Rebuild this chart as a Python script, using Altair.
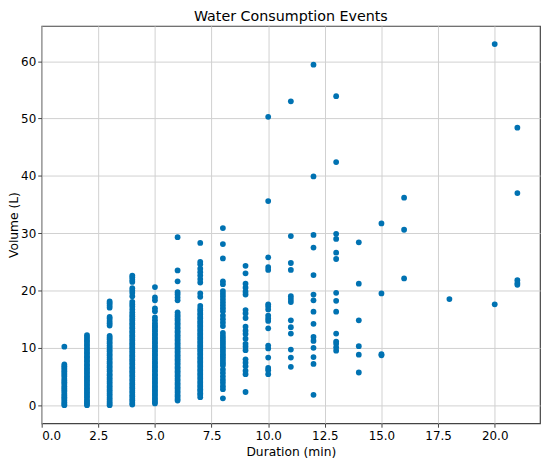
import altair as alt
import pandas as pd

# Volume readings (L) per event duration (min)
vol_1 = [0.0, 0.2, 0.5, 0.8, 1.1, 1.4, 1.7, 2.0, 2.4, 2.7, 3.0, 3.3, 3.7, 4.0, 4.3,
         4.6, 5.0, 5.3, 5.6, 5.9, 6.2, 6.5, 6.8, 7.1, 10.2]
vol_2 = [0.0, 0.3, 0.6, 0.9, 1.3, 1.6, 2.0, 2.3, 2.7, 3.0, 3.4, 3.7, 4.1, 4.4, 4.8,
         5.1, 5.5, 5.8, 6.2, 6.5, 6.9, 7.2, 7.6, 7.9, 8.3, 8.6, 9.0, 9.3, 9.7, 10.0,
         10.4, 10.7, 11.1, 11.4, 11.8, 12.2]
vol_3 = [0.0, 0.3, 0.6, 1.0, 1.3, 1.7, 2.0, 2.4, 2.7, 3.1, 3.4, 3.8, 4.1, 4.5, 4.8,
         5.2, 5.5, 5.9, 6.2, 6.6, 6.9, 7.3, 7.6, 8.0, 8.3, 8.7, 9.0, 9.4, 9.7, 10.1,
         10.4, 10.8, 11.1, 11.5, 11.8, 12.1, 13.9, 14.3, 14.7, 15.1, 15.4, 17.0,
         17.4, 17.8, 18.1]
vol_4 = [0.1, 0.4, 0.8, 1.1, 1.5, 1.8, 2.2, 2.5, 2.9, 3.2, 3.6, 3.9, 4.3, 4.6, 5.0,
         5.3, 5.7, 6.0, 6.4, 6.7, 7.1, 7.4, 7.8, 8.1, 8.5, 8.8, 9.2, 9.5, 9.9, 10.2,
         10.6, 10.9, 11.3, 11.6, 12.0, 12.3, 12.7, 13.0, 13.4, 13.7, 14.1, 14.4,
         14.8, 15.1, 15.5, 15.8, 16.2, 16.7, 17.2, 17.6, 18.0, 19.0, 19.6, 20.0,
         20.4, 21.5, 21.9, 22.3, 22.6]
vol_5 = [0.3, 0.6, 1.0, 1.3, 1.7, 2.0, 2.4, 2.7, 3.1, 3.4, 3.8, 4.1, 4.5, 4.8, 5.2,
         5.5, 5.9, 6.2, 6.6, 6.9, 7.3, 7.6, 8.0, 8.3, 8.7, 9.0, 9.4, 9.7, 10.1, 10.4,
         10.8, 11.1, 11.5, 11.8, 12.2, 12.5, 12.9, 13.2, 13.6, 13.9, 14.3, 14.8,
         15.3, 16.4, 16.9, 18.3, 18.8, 20.6]
vol_6 = [0.8, 1.1, 1.5, 1.8, 2.2, 2.5, 2.9, 3.2, 3.6, 3.9, 4.3, 4.6, 5.0, 5.3, 5.7,
         6.0, 6.4, 6.7, 7.1, 7.4, 7.8, 8.1, 8.5, 8.8, 9.2, 9.5, 9.9, 10.2, 10.6,
         10.9, 11.3, 11.6, 12.0, 12.3, 12.7, 13.0, 13.4, 13.7, 14.1, 14.4, 14.8,
         15.1, 15.5, 15.8, 16.2, 18.3, 18.8, 19.3, 19.7, 21.6, 23.5, 29.3]
vol_7 = [1.4, 1.8, 2.1, 2.5, 2.8, 3.2, 3.5, 3.9, 4.2, 4.6, 4.9, 5.3, 5.6, 6.0, 6.3,
         6.7, 7.0, 7.4, 7.7, 8.1, 8.4, 8.8, 9.1, 9.5, 9.8, 10.2, 10.5, 10.9, 11.2,
         11.6, 11.9, 12.3, 12.6, 13.0, 13.3, 13.7, 14.0, 14.4, 14.7, 15.1, 15.4,
         15.8, 16.1, 16.5, 16.8, 17.3, 18.9, 19.5, 21.4, 22.0, 22.6, 23.2, 23.8,
         24.6, 25.0, 28.3]
vol_8 = [1.2, 2.8, 3.3, 3.9, 4.4, 5.0, 5.6, 6.2, 6.9, 7.3, 7.7, 8.1, 8.5, 8.9, 9.3,
         9.7, 10.1, 10.5, 10.9, 11.3, 11.7, 12.1, 12.6, 13.8, 14.4, 15.0, 15.6,
         16.4, 16.9, 17.4, 17.9, 18.4, 18.9, 19.4, 19.9, 21.1, 21.6, 25.6, 28.1,
         30.9]
vol_9 = [2.3, 5.4, 6.0, 6.8, 7.4, 8.0, 9.6, 10.2, 10.7, 11.6, 12.4, 13.0, 13.7,
         15.2, 16.0, 16.6, 19.3, 19.8, 20.5, 21.2, 23.0, 24.3]
vol_10 = [50.3, 35.6, 25.8, 24.1, 23.6, 17.6, 17.2, 16.7, 15.6, 15.1, 14.7, 13.4,
          10.4, 9.9, 8.3, 6.5, 6.1, 5.4]
vol_11 = [53.0, 29.5, 24.8, 23.6, 19.0, 18.5, 18.0, 14.8, 13.6, 12.5, 9.7, 8.3, 6.7]
vol_12 = [59.4, 39.9, 29.7, 27.5, 22.7, 19.3, 18.3, 16.3, 14.2, 11.9, 11.2, 10.0,
          8.4, 7.2, 1.8]
vol_13 = [53.9, 42.4, 29.9, 29.0, 26.6, 25.5, 19.6, 18.2, 16.3, 12.5, 11.1, 10.7,
          10.1, 9.5]
vol_14 = [28.4, 21.2, 14.8, 10.3, 8.8, 5.7]
vol_15 = [31.7, 19.5, 8.9, 8.7]
vol_16 = [36.2, 30.6, 22.1]
vol_18 = [18.5]
vol_20 = [63.0, 17.6]
vol_21 = [48.4, 37.0, 21.8, 21.3, 21.0]

durations = [1, 2, 3, 4, 5, 6, 7, 8, 9, 10, 11, 12, 13, 14, 15, 16, 18, 20, 21]
volumes = [vol_1, vol_2, vol_3, vol_4, vol_5, vol_6, vol_7, vol_8, vol_9, vol_10,
           vol_11, vol_12, vol_13, vol_14, vol_15, vol_16, vol_18, vol_20, vol_21]

x_ticks = [0.0, 2.5, 5.0, 7.5, 10.0, 12.5, 15.0, 17.5, 20.0]
y_ticks = [0, 10, 20, 30, 40, 50, 60]

rows = []
for d, vs in zip(durations, volumes):
    for v in vs:
        rows.append({"duration": d, "volume": v})
df = pd.DataFrame(rows)

FONT = "DejaVu Sans"

chart = alt.Chart(df).mark_circle(
    size=34, opacity=1, color="#0072B2"
).encode(
    x=alt.X("duration:Q", title="Duration (min)",
            scale=alt.Scale(domain=[0, 22], nice=False, zero=False),
            axis=alt.Axis(values=x_ticks, format=".1f", labelPadding=3,
                          titlePadding=5)),
    y=alt.Y("volume:Q", title="Volume (L)",
            scale=alt.Scale(domain=[-3.15, 66.15], nice=False, zero=False),
            axis=alt.Axis(values=y_ticks, format="d", labelPadding=2,
                          titlePadding=0)),
).properties(
    width=503,
    height=401,
    title=alt.TitleParams("Water Consumption Events", font=FONT, fontSize=14.4,
                          fontWeight="normal", color="#000000", offset=2),
    autosize=alt.AutoSizeParams(type="none"),
    padding={"left": 34, "top": 16, "right": 2, "bottom": 37},
).configure_view(
    stroke="#444444", strokeWidth=1.2
).configure_axis(
    labelFont=FONT, labelFontSize=12, labelColor="#000000",
    titleFont=FONT, titleFontSize=12.4, titleFontWeight="normal", titleColor="#000000",
    domain=False, grid=True, gridColor="#d0d0d0", gridWidth=1,
    tickColor="#444444", tickSize=4, tickWidth=1,
)

chart.save("out.html", embed_options={"renderer": "svg", "actions": False})
